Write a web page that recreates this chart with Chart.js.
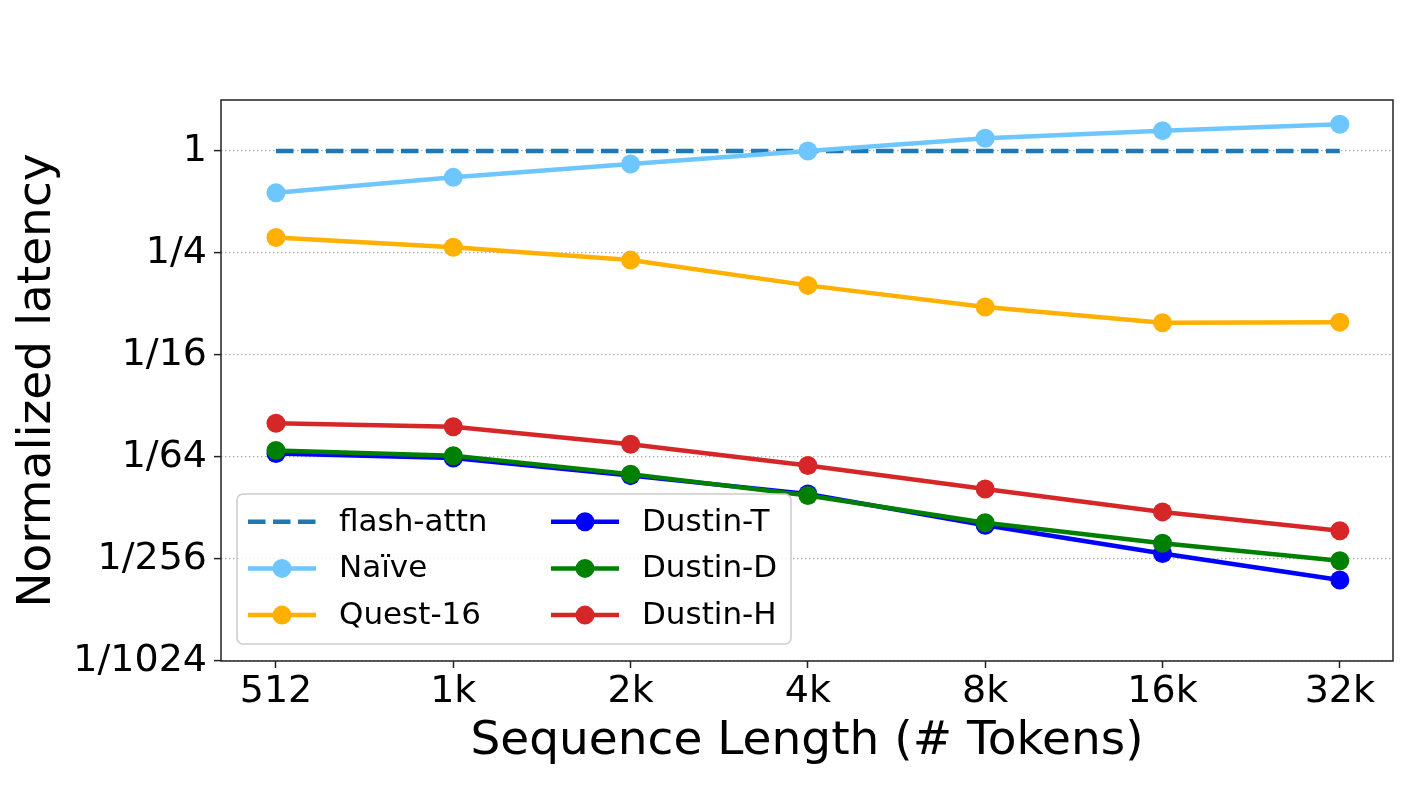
<!DOCTYPE html>
<html><head><meta charset="utf-8">
<script src="https://cdn.jsdelivr.net/npm/chart.js@4/dist/chart.umd.min.js"></script>
<style>html,body{margin:0;padding:0;background:#fff}#wrap{width:1416px;height:810px;position:relative}</style>
</head><body><div id="wrap"><canvas id="c"></canvas></div>
<script>
const xLabels = ['512','1k','2k','4k','8k','16k','32k'];
const yTickValues = [1, 1/4, 1/16, 1/64, 1/256, 1/1024];
const yTickLabels = ['1','1/4','1/16','1/64','1/256','1/1024'];
const flashAttn = [1, 1, 1, 1, 1, 1, 1];
const naive   = [0.567, 0.699, 0.838, 1.0, 1.189, 1.319, 1.439];
const quest16 = [0.309, 0.270, 0.227, 0.161, 0.120, 0.0970, 0.0977];
const dustinT = [0.01637, 0.01541, 0.01213, 0.00944, 0.00618, 0.00421, 0.00294];
const dustinD = [0.01705, 0.01591, 0.01238, 0.00925, 0.00639, 0.00484, 0.00381];
const dustinH = [0.0247, 0.0236, 0.0186, 0.01391, 0.01011, 0.00741, 0.00574];
const seriesNames = ['flash-attn','Naïve','Quest-16','Dustin-T','Dustin-D','Dustin-H'];
const seriesColors = ['#1f77b4','#6ec6ff','#ffb000','#0000ff','#008000','#d62728'];
const seriesData = [flashAttn, naive, quest16, dustinT, dustinD, dustinH];

const FONT = "'DejaVu Sans', sans-serif";
const toPts = arr => arr.map((v, i) => ({x: i, y: v}));

const datasets = seriesData.map((arr, i) => ({
  label: seriesNames[i],
  data: toPts(arr),
  borderColor: seriesColors[i],
  backgroundColor: seriesColors[i],
  pointBackgroundColor: seriesColors[i],
  pointBorderWidth: 0,
  pointRadius: i === 0 ? 0 : 9.5,
  pointHoverRadius: i === 0 ? 0 : 9.5,
  borderWidth: 4.5,
  borderDash: i === 0 ? [17.5, 7.5] : [],
  tension: 0,
  order: seriesData.length - i
}));

const overlayPlugin = {
  id: 'overlay',
  afterDraw(chart) {
    const {ctx, chartArea: a} = chart;
    ctx.save();
    // frame
    ctx.strokeStyle = '#222';
    ctx.lineWidth = 1.5;
    ctx.strokeRect(a.left, a.top, a.right - a.left, a.bottom - a.top);
    // legend
    const bw = 554, bh = 150;
    const bx = a.left + 16, by = a.bottom - 17 - bh;
    const r = 6;
    ctx.beginPath();
    ctx.moveTo(bx + r, by);
    ctx.arcTo(bx + bw, by, bx + bw, by + bh, r);
    ctx.arcTo(bx + bw, by + bh, bx, by + bh, r);
    ctx.arcTo(bx, by + bh, bx, by, r);
    ctx.arcTo(bx, by, bx + bw, by, r);
    ctx.closePath();
    ctx.fillStyle = 'rgba(255,255,255,0.8)';
    ctx.fill();
    ctx.strokeStyle = '#cccccc';
    ctx.lineWidth = 1.5;
    ctx.stroke();
    ctx.font = '31px ' + FONT;
    ctx.textBaseline = 'middle';
    ctx.textAlign = 'left';
    chart.data.datasets.forEach((ds, i) => {
      const col = Math.floor(i / 3), row = i % 3;
      const x0 = bx + 11 + col * 303;
      const y = by + 27.7 + row * 46.7;
      ctx.strokeStyle = ds.borderColor;
      ctx.lineWidth = ds.borderWidth;
      ctx.setLineDash(ds.borderDash || []);
      ctx.beginPath();
      ctx.moveTo(x0, y);
      ctx.lineTo(x0 + 68, y);
      ctx.stroke();
      ctx.setLineDash([]);
      if (ds.pointRadius > 0) {
        ctx.fillStyle = ds.pointBackgroundColor;
        ctx.beginPath();
        ctx.arc(x0 + 34, y, ds.pointRadius, 0, Math.PI * 2);
        ctx.fill();
      }
      ctx.fillStyle = '#000';
      ctx.fillText(ds.label, x0 + 91, y + 1);
    });
    ctx.restore();
  }
};

new Chart(document.getElementById('c'), {
  type: 'line',
  data: {datasets},
  options: {
    responsive: true,
    maintainAspectRatio: false,
    animation: false,
    events: [],
    layout: {padding: {top: 100, right: 23, left: 0, bottom: 0}},
    plugins: {legend: {display: false}, tooltip: {enabled: false}},
    scales: {
      x: {
        type: 'linear',
        min: -0.31,
        max: 6.30,
        bounds: 'data',
        afterBuildTicks: s => { s.ticks = xLabels.map((_, i) => ({value: i})); },
        afterFit: s => { s.height = 149; },
        border: {display: false},
        grid: {drawOnChartArea: false, tickLength: 7, tickColor: '#222', tickWidth: 1.5},
        ticks: {
          padding: 1,
          color: '#000',
          font: {family: FONT, size: 38},
          maxRotation: 0,
          autoSkip: false,
          callback: v => xLabels[v]
        },
        title: {display: true, text: 'Sequence Length (# Tokens)', color: '#000',
                font: {family: FONT, size: 47}, padding: {top: 0, bottom: 40}}
      },
      y: {
        type: 'logarithmic',
        min: 1/1024,
        max: 2,
        bounds: 'data',
        afterBuildTicks: s => { s.ticks = yTickValues.map(v => ({value: v})); },
        afterFit: s => { s.width = 221; },
        border: {display: false, dash: [1.5, 2.5]},
        grid: {color: '#b0b0b0', lineWidth: 1.2, borderDash: [1.5, 2.5],
               tickLength: 7, tickColor: '#222', tickWidth: 1.5, tickBorderDash: []},
        ticks: {
          padding: 7,
          color: '#000',
          font: {family: FONT, size: 38},
          autoSkip: false,
          callback: v => {
            const idx = yTickValues.findIndex(t => Math.abs(t - v) / t < 1e-6);
            return idx >= 0 ? yTickLabels[idx] : '';
          }
        },
        title: {display: true, text: 'Normalized latency', color: '#000',
                font: {family: FONT, size: 47}, padding: {top: 10, bottom: 0}}
      }
    }
  },
  plugins: [overlayPlugin]
});
</script>
</body></html>
